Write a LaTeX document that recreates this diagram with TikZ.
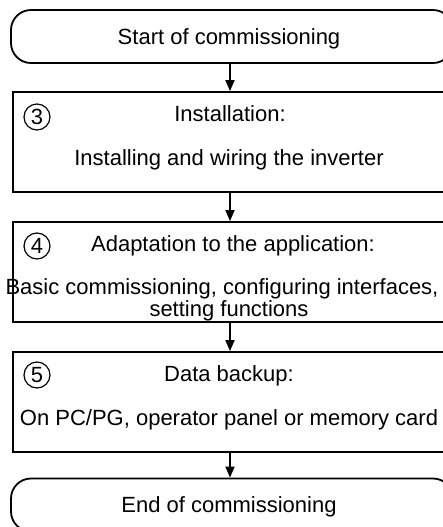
\documentclass[tikz,border=0pt]{standalone}
\usepackage{fontspec}
\setmainfont{Liberation Sans}
\usetikzlibrary{arrows.meta,positioning,shapes}

\begin{document}
\begin{tikzpicture}[x=0.5pt,y=-0.5pt,
    font=\fontsize{11}{13}\selectfont,
    terminal/.style={draw,line width=0.9pt,rounded corners=10pt,minimum width=221pt,minimum height=26.5pt},
    stepbox/.style={draw,line width=0.9pt,minimum width=226pt,minimum height=50pt},
    num/.style={circle,draw,line width=0.6pt,inner sep=0pt,minimum size=13pt},
    flow/.style={-{Triangle[length=5.5pt,width=4.5pt]},line width=0.9pt}]
    \useasboundingbox (0,0) rectangle (443,527);
    \clip (0,0) rectangle (443,527);

    % Start and end
    \node[terminal] (start) at (232,36.5) {};
    \node[anchor=base] (start-text) at (229,44) {Start of commissioning};
    \node[terminal] (stop) at (232,505) {};
    \node[anchor=base] (stop-text) at (229,512) {End of commissioning};

    % Steps
    \node[stepbox] (inst) at (239,142) {};
    \node[stepbox] (adapt) at (239,272) {};
    \node[stepbox] (backup) at (239,402) {};

    % Step numbers
    \foreach \n/\y in {3/117,4/246,5/375} {
        \node[num] (num\n) at (37,\y) {\n};
    }

    % Step texts
    \node[anchor=base] (inst-title) at (230,121) {Installation:};
    \node[anchor=base] (inst-body) at (229,165) {Installing and wiring the inverter};
    \node[anchor=base] (adapt-title) at (233,251) {Adaptation to the application:};
    \node[anchor=base] (adapt-body1) at (222,294) {Basic commissioning, configuring interfaces,};
    \node[anchor=base] (adapt-body2) at (229,316) {setting functions};
    \node[anchor=base] (backup-title) at (229,381) {Data backup:};
    \node[anchor=base] (backup-body) at (229,425) {On PC/PG, operator panel or memory card};

    % Connections
    \coordinate (axis) at (230,0);
    \draw[flow] (start.south -| axis) -- (inst.north -| axis);
    \draw[flow] (inst.south -| axis) -- (adapt.north -| axis);
    \draw[flow] (adapt.south -| axis) -- (backup.north -| axis);
    \draw[flow] (backup.south -| axis) -- (stop.north -| axis);
\end{tikzpicture}
\end{document}
